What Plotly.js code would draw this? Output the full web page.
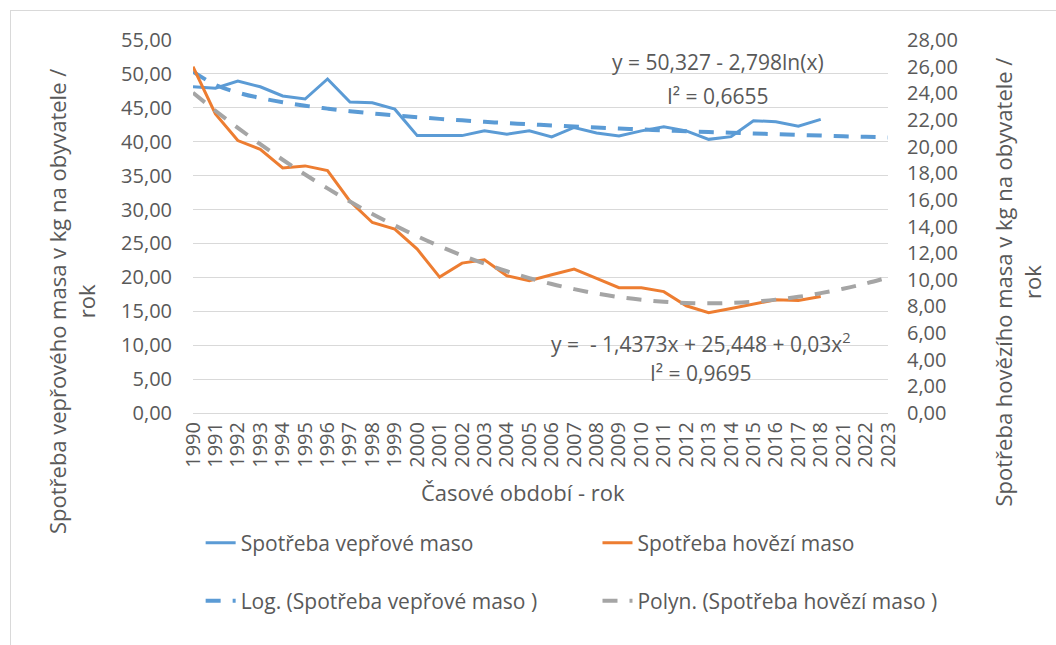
<!DOCTYPE html>
<html>
<head>
<meta charset="utf-8">
<script src="https://cdn.plot.ly/plotly-3.0.1.min.js"></script>
<style>
  html, body { margin: 0; padding: 0; background: #fff; width: 1056px; height: 645px; overflow: hidden; }
  #frame { position: absolute; left: 10px; top: 10px; width: 1100px; height: 700px; border: 1px solid #d9d9d9; }
  #chart { position: absolute; left: 0; top: 0; width: 1056px; height: 645px; }
</style>
</head>
<body>
<div id="frame"></div>
<div id="chart"></div>
<script>
// categories (x axis)
const years = ['1990', '1991', '1992', '1993', '1994', '1995', '1996', '1997', '1998', '1999',
  '2000', '2001', '2002', '2003', '2004', '2005', '2006', '2007', '2008', '2009',
  '2010', '2011', '2012', '2013', '2014', '2015', '2016', '2017', '2018', '2021', '2022', '2023']
const measuredYears = years.slice(0, 29)

// pork consumption, kg per person (left axis)
const pork = [48.1, 47.9, 48.95, 48.1, 46.75, 46.3, 49.25, 45.85, 45.75, 44.8,
  40.9, 40.9, 40.9, 41.6, 41.1, 41.6, 40.7, 42.1, 41.3, 40.85,
  41.6, 42.2, 41.6, 40.35, 40.75, 43.1, 42.95, 42.3, 43.3]

// beef consumption, kg per person (right axis)
const beef = [26.0, 22.45, 20.45, 19.8, 18.4, 18.55, 18.2, 15.9, 14.3, 13.8,
  12.3, 10.2, 11.25, 11.5, 10.3, 9.93, 10.38, 10.8, 10.1, 9.41,
  9.41, 9.11, 8.05, 7.53, 7.85, 8.2, 8.5, 8.45, 8.75]

// trendline values as drawn in the chart
const porkTrend = [50.33, 48.39, 47.25, 46.45, 45.82, 45.31, 44.88, 44.51, 44.18, 43.88,
  43.62, 43.37, 43.15, 42.94, 42.75, 42.57, 42.40, 42.24, 42.09, 41.94,
  41.81, 41.68, 41.55, 41.43, 41.32, 41.21, 41.11, 41.00, 40.91, 40.81, 40.72, 40.63]
const beefTrend = [24.04, 22.69, 21.41, 20.18, 19.01, 17.90, 16.86, 15.87, 14.94, 14.08,
  13.27, 12.52, 11.83, 11.21, 10.64, 10.13, 9.68, 9.30, 8.97, 8.70,
  8.50, 8.35, 8.26, 8.23, 8.27, 8.36, 8.51, 8.72, 9.00, 9.33, 9.72, 10.17]

const leftTicks = [0, 5, 10, 15, 20, 25, 30, 35, 40, 45, 50, 55]
const rightTicks = [0, 2, 4, 6, 8, 10, 12, 14, 16, 18, 20, 22, 24, 26, 28]

const txt = '#595959'
const font = 'Open Sans, Noto Sans, sans-serif'
const fs = 20

const data = [
  {
    x: measuredYears, y: pork, type: 'scatter', mode: 'lines',
    name: 'Spotřeba vepřové maso', legend: 'legend',
    line: { color: '#5B9BD5', width: 3 }
  },
  {
    x: years, y: porkTrend, type: 'scatter', mode: 'lines',
    name: 'Log. (Spotřeba vepřové maso )', legend: 'legend3',
    line: { color: '#5B9BD5', width: 4, dash: '15px,12px', shape: 'spline' }
  },
  {
    x: measuredYears, y: beef, type: 'scatter', mode: 'lines', yaxis: 'y2',
    name: 'Spotřeba hovězí maso', legend: 'legend2',
    line: { color: '#ED7D31', width: 3 }
  },
  {
    x: years, y: beefTrend, type: 'scatter', mode: 'lines', yaxis: 'y2',
    name: 'Polyn. (Spotřeba hovězí maso )', legend: 'legend4',
    line: { color: '#A5A5A5', width: 4, dash: '15px,12px', shape: 'spline' }
  }
]

const legendBase = {
  orientation: 'h', xanchor: 'left', yanchor: 'middle',
  bgcolor: 'rgba(0,0,0,0)', font: { family: font, size: 21, color: txt }
}

function note(x, y, text, size, angle) {
  return {
    xref: 'paper', yref: 'paper', x: x, y: y,
    xanchor: 'center', yanchor: 'middle', showarrow: false,
    textangle: angle || 0, text: text,
    font: { family: font, size: size, color: txt }
  }
}

const layout = {
  width: 1056,
  height: 645,
  margin: { l: 193, r: 168, t: 40, b: 232 },
  paper_bgcolor: 'rgba(0,0,0,0)',
  plot_bgcolor: 'rgba(0,0,0,0)',
  separators: ', ',
  font: { family: font, size: fs, color: txt },
  showlegend: true,
  xaxis: {
    type: 'category',
    categoryorder: 'array',
    categoryarray: years,
    tickmode: 'array',
    tickvals: years,
    ticktext: years,
    tickangle: -90,
    ticks: '',
    showgrid: false,
    showline: true,
    linecolor: '#d9d9d9',
    linewidth: 1,
    tickfont: { family: font, size: fs, color: txt }
  },
  yaxis: {
    range: [0, 55],
    tickvals: leftTicks,
    tickformat: '.2f',
    showgrid: true,
    gridcolor: '#d9d9d9',
    gridwidth: 1,
    zeroline: false,
    ticks: '',
    tickfont: { family: font, size: fs, color: txt },
    ticklabelstandoff: 20
  },
  yaxis2: {
    range: [0, 28],
    tickvals: rightTicks,
    tickformat: '.2f',
    overlaying: 'y',
    side: 'right',
    showgrid: false,
    zeroline: false,
    ticks: '',
    tickfont: { family: font, size: fs, color: txt },
    ticklabelstandoff: 18
  },
  legend: Object.assign({ x: 0.011, y: -0.3485 }, legendBase),
  legend2: Object.assign({ x: 0.582, y: -0.3485 }, legendBase),
  legend3: Object.assign({ x: 0.011, y: -0.504 }, legendBase),
  legend4: Object.assign({ x: 0.582, y: -0.504 }, legendBase),
  annotations: [
    note(-0.174, 0.2976, 'Spotřeba vepřového masa v kg na obyvatele /<br>rok', 22, -90),
    note(1.187, 0.3525, 'Spotřeba hovězího masa v kg na obyvatele /<br>rok', 22, -90),
    note(0.4748, -0.2118, 'Časové období - rok', 22),
    note(0.755, 0.941, 'y = 50,327 - 2,798ln(x)', 21),
    note(0.755, 0.85, 'I² = 0,6655', 21),
    note(0.731, 0.1877, 'y =  - 1,4373x + 25,448 + 0,03x<sup>2</sup>', 21),
    note(0.731, 0.1072, 'I² = 0,9695', 21)
  ]
}

Plotly.newPlot('chart', data, layout, { staticPlot: true, displayModeBar: false })
</script>
</body>
</html>
